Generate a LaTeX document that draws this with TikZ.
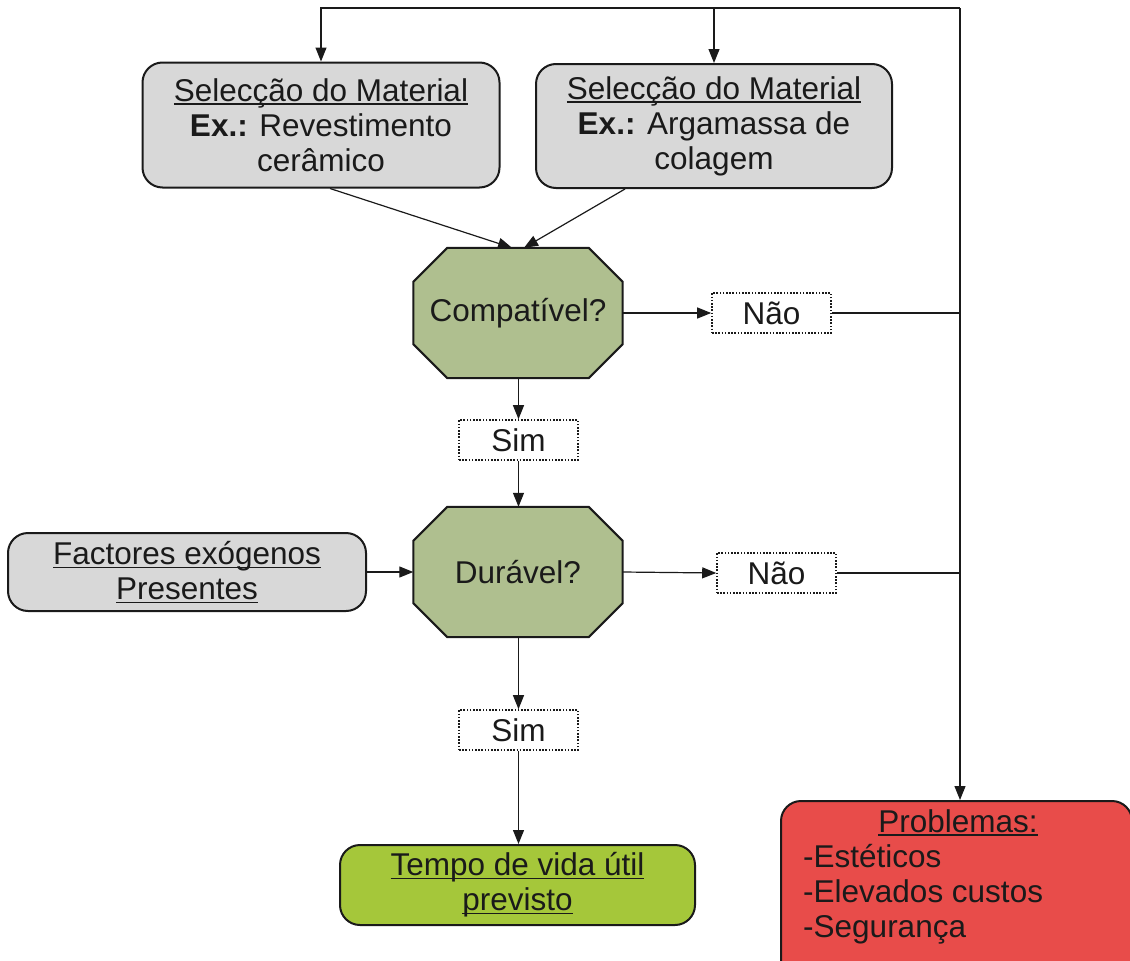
\documentclass[tikz,border=0pt]{standalone}
\usepackage{fontspec}
\setmainfont{Liberation Sans}
\usetikzlibrary{arrows.meta}
\definecolor{boxgray}{HTML}{D8D8D8}
\definecolor{octgreen}{HTML}{AFBF8F}
\definecolor{lifegreen}{HTML}{A5C73A}
\definecolor{probred}{HTML}{E84C4A}
\definecolor{ink}{HTML}{1A1A1A}
\newcommand\undl[1]{\setbox0\hbox{#1}\rlap{\rule[-3.5pt]{\wd0}{1.3pt}}\box0}
\tikzset{
  txt/.style={font=\fontsize{31.5}{35}\selectfont, text=ink, align=center, inner sep=0pt},
  roundbox/.style={txt, draw=ink, line width=2pt, rounded corners=20pt},
  octbox/.style={txt, minimum width=209pt, minimum height=130pt},
  octline/.style={draw=ink, fill=octgreen, line width=2pt},
  answer/.style={txt, draw=ink, line width=1.6pt, dash pattern=on 1.6pt off 1.6pt,
                 minimum width=119pt, minimum height=40pt},
  arr/.style={draw=ink, line width=1.2pt, -{Triangle[length=14pt,width=11pt]}},
  link/.style={draw=ink, line width=1.2pt}
}
\newcommand\octagon[1]{%
  \path[octline] ([xshift=34pt]#1.north west) -- ([xshift=-34pt]#1.north east)
    -- ([yshift=-34pt]#1.north east) -- ([yshift=34pt]#1.south east)
    -- ([xshift=-34pt]#1.south east) -- ([xshift=34pt]#1.south west)
    -- ([yshift=34pt]#1.south west) -- ([yshift=-34pt]#1.north west) -- cycle;}
\begin{document}
\begin{tikzpicture}[x=1pt,y=-1pt]
\useasboundingbox (0,0) rectangle (1130,961);
\clip (0,0) rectangle (1130,961);

% material selection boxes
\node[roundbox, fill=boxgray, minimum width=357pt, minimum height=125pt] (b1) at (321,125)
  {\undl{Selecção do Material}\\\textbf{Ex.:} Revestimento\\cerâmico};
\node[roundbox, fill=boxgray, minimum width=356pt, minimum height=124pt] (b2) at (714,126)
  {\undl{Selecção do Material}\\\textbf{Ex.:} Argamassa de\\colagem};

% decision octagons
\node[octbox] (c) at (518,313) {};
\octagon{c}
\node[txt] (ct) at (c) {Compatível?};
\node[octbox] (d) at (518,572) {};
\octagon{d}
\node[txt] (dt) at (d) {Durável?};

% answers
\node[answer] (n1) at (771.5,313) {Não};
\node[answer] (n2) at (776.5,573) {Não};
\node[answer] (s1) at (518.5,440) {Sim};
\node[answer] (s2) at (518.5,730) {Sim};

% external factors
\node[roundbox, fill=boxgray, minimum width=358pt, minimum height=78pt] (f) at (187,572)
  {\undl{Factores exógenos}\\\undl{Presentes}};

% expected service life
\node[roundbox, fill=lifegreen, minimum width=355pt, minimum height=80pt] (t) at (517.5,885)
  {\undl{Tempo de vida útil}\\\undl{previsto}};

% problems box
\node[roundbox, fill=probred, minimum width=351pt, minimum height=190pt, anchor=north west] (p) at (780,800) {};
\node[txt, anchor=base] (pt) at (958,832) {\undl{Problemas:}};
\node[txt, align=left, anchor=north west] (pl) at (803,844)
  {-Estéticos\\-Elevados custos\\-Segurança};

% feedback loop
\coordinate (tr) at (960,8);
\draw[arr] (tr) -| (b1.north);
\draw[arr] (tr -| b2.north) -- (b2.north);
\draw[arr] (tr) -- (tr |- p.north);
\draw[link] (n1.east) -- (n1.east -| tr);
\draw[link] (n2.east) -- (n2.east -| tr);

% main flow
\draw[arr] ([xshift=9pt]b1.south) -- ([xshift=-6pt]c.north);
\draw[arr] ([xshift=-89pt]b2.south) -- ([xshift=6pt]c.north);
\draw[arr] (c.east) -- (n1.west);
\draw[arr] (c.south -| s1.north) -- (s1.north);
\draw[arr] (s1.south) -- (s1.south |- d.north);
\draw[arr] (f.east) -- (f.east -| d.west);
\draw[arr] (d.east) -- (n2.west);
\draw[arr] (d.south -| s2.north) -- (s2.north);
\draw[arr] (s2.south) -- (s2.south |- t.north);
\end{tikzpicture}
\end{document}
